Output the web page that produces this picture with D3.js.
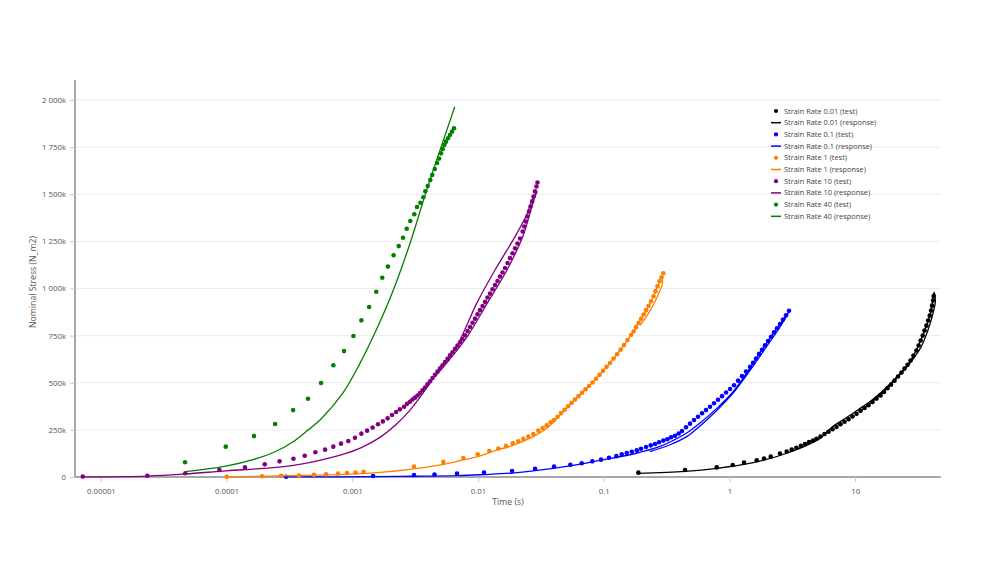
<!DOCTYPE html>
<html><head><meta charset="utf-8">
<script src="https://cdn.jsdelivr.net/npm/d3@7"></script>
<style>
body{margin:0;background:#fff;}
svg{display:block;font-family:"Open Sans",sans-serif;}
</style></head><body>
<svg id="chart" width="1000" height="572"></svg>
<script>
const rates = ["0.01", "0.1", "1", "10", "40"];
const rateColors = ["#000000", "#0000ff", "#ff7f00", "#800080", "#008000"];
const xTickValues = [1e-5, 1e-4, 1e-3, 1e-2, 1e-1, 1, 10];
const xTickLabels = ["0.00001", "0.0001", "0.001", "0.01", "0.1", "1", "10"];
const yTickValues = [0, 250000, 500000, 750000, 1000000, 1250000, 1500000, 1750000, 2000000];
const xTitle = "Time (s)";
const yTitle = "Nominal Stress (N_m2)";

// [time (s), stress (N_m2)]
const test_0_01 = [[0.18853,23e3],[0.4436,37e3],[0.7925,51e3],[1.0624,64e3],[1.3066,76e3],[1.6496,89e3],[1.885,98e3],[2.1307,108e3],[2.5259,125e3],[2.8553,135e3],[3.1303,145e3],[3.4055,155e3],[3.6983,165e3],[3.9939,175e3],[4.2983,185e3],[4.6259,194e3],[4.9317,203e3],
[5.305,215e3],[5.7085,228e3],[6.1426,240e3],[6.6097,253e3],[7.1121,266e3],[7.6543,280e3],[8.2358,293e3],[8.8616,307e3],[9.5346,321e3],[10.259,335e3],[11.041,351e3],[11.881,366e3],[12.784,381e3],[13.75,398e3],[14.797,416e3],[15.93,433e3],[16.98,451e3],[18.1,471e3],[19.3,490e3],[20.58,511e3],[21.94,533e3],[23.39,554e3],[24.72,575e3],[26.12,595e3],[27.59,618e3],[29.09,644e3],[30.73,671e3],[32.0,697e3],[33.19,724e3],[34.5,750e3],[35.65,777e3],[36.91,803e3],[38.08,830e3],[39.22,856e3],[40.16,883e3],[40.9,909e3],[41.74,936e3],[42.13,960e3]];
const resp_0_01 = [[0.18853,19e3],[0.4436,30e3],[0.7925,46e3],[1.5489,76e3],[2.8553,126e3],[5.2576,205e3],[6.489,263e3],[8.31,310e3],[10.354,353e3],[13.954,414e3],[19.84,507e3],[27.34,613e3],[34.37,748e3],[39.79,870e3],[42.44,979e3],[43.45,928e3],[41.66,870e3],[39.43,812e3],[36.64,751e3],[33.14,684e3],[28.88,626e3],[24.95,573e3],[20.77,515e3],[15.78,435e3],[10.94,347e3]];

const test_0_1 = [[2.97e-4,1e3],[1.461e-3,5e3],[3.096e-3,10e3],[4.507e-3,13e3],[6.806e-3,18e3],[0.01116,24e3],[0.01864,32e3],[0.02842,44e3],[0.04024,55e3],[0.05424,65e3],[0.06683,73e3],[0.08115,83e3],[0.09517,92e3],[0.1102,102e3],[0.12595,111e3],[0.13906,120e3],[0.1524,127e3],[0.16702,134e3],[0.18303,141e3],[0.19807,150e3],[0.21703,159e3],[0.23655,168e3],[0.25592,175e3],[0.27536,184e3],[0.29791,193e3],[0.32063,200e3],[0.34304,211e3],[0.36923,219e3],[0.39518,231e3],
[0.41967,244e3],[0.4516,264e3],[0.4859,283e3],[0.5229,302e3],[0.5626,320e3],[0.6054,338e3],[0.6514,355e3],[0.701,373e3],[0.7543,391e3],[0.8115,410e3],[0.8732,429e3],[0.9397,448e3],[1.0111,467e3],[1.0879,487e3],[1.1706,511e3],[1.2595,535e3],[1.3556,559e3],[1.4585,584e3],[1.5407,606e3],[1.6277,629e3],[1.7197,653e3],[1.8164,675e3],[1.9192,698e3],[2.0278,721e3],[2.142,744e3],[2.263,767e3],[2.3911,789e3],[2.5259,812e3],[2.6687,835e3],[2.8194,858e3],[2.9786,882e3]];
const resp_0_1 = [[2.97e-4,500],[1.461e-3,2e3],[3.096e-3,4e3],[6.806e-3,7e3],[0.01116,13e3],[0.01864,21e3],[0.02754,32e3],[0.05078,56e3],[0.09346,88e3],[0.172,122e3],[0.28046,162e3],[0.35,191e3],[0.45741,233e3],[0.58358,286e3],[0.7925,364e3],[1.074,454e3],[1.3729,552e3],[1.9912,714e3],[2.5259,812e3],[2.9786,878e3],[2.5735,804e3],[2.0278,703e3],[1.4585,565e3],[1.074,446e3],[0.7925,353e3],[0.58358,271e3],[0.45741,214e3],[0.33684,171e3],[0.23352,135e3]];

const test_1 = [[1.0e-4,1e3],[1.913e-4,4e3],[2.709e-4,6e3],[3.767e-4,8e3],[4.958e-4,12e3],[6.177e-4,14e3],[7.694e-4,18e3],[9.074e-4,21e3],[1.06e-3,24e3],[1.228e-3,28e3],[3.096e-3,56e3],[5.296e-3,80e3],[7.64e-3,101e3],[9.945e-3,121e3],[0.0123,138e3],[0.01451,151e3],[0.0167,165e3],[0.01889,179e3],[0.02092,190e3],[0.02293,202e3],[0.02513,214e3],[0.02754,228e3],[0.03018,246e3],[0.03271,260e3],[0.0352,274e3],[0.03788,290e3],
[0.04024,302e3],[0.0429,320e3],[0.04574,339e3],[0.04877,357e3],[0.052,375e3],[0.05544,393e3],[0.05911,411e3],[0.06303,429e3],[0.06721,447e3],[0.07164,465e3],[0.0764,483e3],[0.08145,501e3],[0.08683,521e3],[0.09261,542e3],[0.09872,563e3],[0.10527,584e3],[0.11222,605e3],[0.11967,629e3],[0.12757,651e3],[0.13604,675e3],[0.14502,700e3],[0.15461,727e3],[0.16491,753e3],[0.17264,772e3],[0.18072,795e3],[0.1892,817e3],[0.19807,839e3],[0.20731,862e3],[0.21703,885e3],[0.2272,908e3],[0.23785,932e3],[0.24901,959e3],[0.2583,986e3],[0.26792,1012e3],[0.2779,1038e3],[0.28826,1060e3],[0.29791,1081e3]];
const resp_1 = [[1.0e-4,1e3],[3.837e-4,8e3],[9.59e-4,15e3],[1.661e-3,24e3],[2.877e-3,40e3],[5.296e-3,67e3],[7.64e-3,91e3],[9.945e-3,108e3],[0.01409,143e3],[0.01797,162e3],[0.02754,214e3],[0.0352,258e3],[0.0449,329e3],[0.05911,411e3],[0.08266,506e3],[0.10879,594e3],[0.13906,683e3],[0.172,771e3],[0.20654,859e3],[0.24535,948e3],[0.2679,1012e3],[0.28826,1058e3],[0.29365,1029e3],[0.2704,966e3],[0.23352,881e3],[0.19448,804e3]];

const test_10 = [[7.17e-6,2e3],[2.34e-5,7e3],[4.69e-5,20e3],[8.75e-5,37e3],[1.4e-4,51e3],[2.01e-4,67e3],[2.64e-4,83e3],[3.4e-4,97e3],[4.18e-4,113e3],[5.08e-4,131e3],[6.07e-4,145e3],[7.06e-4,161e3],[8.13e-4,177e3],[9.29e-4,191e3],[1.05e-3,208e3],[1.18e-3,230e3],[1.31e-3,246e3],[1.45e-3,262e3],[1.6e-3,280e3],[1.75e-3,295e3],[1.91e-3,311e3],[2.07e-3,329e3],[2.23e-3,345e3],[2.39e-3,359e3],[2.58e-3,373e3],[2.724e-3,388e3],
[2.877e-3,399e3],[3.012e-3,411e3],[3.153e-3,421e3],[3.302e-3,432e3],[3.456e-3,446e3],[3.618e-3,460e3],[3.788e-3,475e3],[3.966e-3,492e3],[4.152e-3,508e3],[4.345e-3,525e3],[4.549e-3,542e3],[4.763e-3,559e3],[4.986e-3,576e3],[5.22e-3,593e3],[5.465e-3,610e3],[5.721e-3,627e3],[5.987e-3,645e3],[6.268e-3,662e3],[6.561e-3,680e3],[6.87e-3,697e3],[7.192e-3,715e3],[7.53e-3,732e3],[7.883e-3,752e3],[8.252e-3,774e3],[8.639e-3,796e3],[9.042e-3,818e3],[9.465e-3,840e3],[9.908e-3,863e3],[0.01037,885e3],[0.01086,907e3],[0.01137,929e3],[0.0119,952e3],[0.01246,973e3],[0.01305,996e3],[0.01365,1018e3],[0.01429,1040e3],[0.01496,1063e3],[0.01566,1085e3],[0.0164,1109e3],[0.01717,1135e3],[0.01797,1161e3],[0.01882,1187e3],[0.0197,1213e3],[0.02062,1239e3],[0.02159,1265e3],
[0.02264,1302e3],[0.02331,1329e3],[0.02401,1355e3],[0.02472,1382e3],[0.02545,1409e3],[0.02616,1435e3],[0.02694,1462e3],[0.02764,1488e3],[0.02836,1515e3],[0.02915,1541e3],[0.02974,1562e3]];
const resp_10 = [[7.17e-6,1e3],[2.34e-5,5e3],[4.69e-5,16e3],[1.0e-4,33e3],[2.01e-4,46e3],[3.4e-4,62e3],[5.08e-4,83e3],[8.13e-4,117e3],[1.18e-3,156e3],[1.66e-3,210e3],[2.23e-3,278e3],[2.877e-3,355e3],[3.585e-3,438e3],[4.306e-3,515e3],[4.986e-3,576e3],[5.721e-3,626e3],[6.97e-3,709e3],[9.76e-3,921e3],[0.01365,1098e3],[0.0197,1275e3],[0.02454,1395e3],[0.02689,1469e3],[0.02947,1512e3],[0.02842,1488e3],[0.02593,1401e3],[0.0228,1279e3],[0.01701,1098e3],[0.01179,920e3],[8.176e-3,743e3],[5.933e-3,623e3],[4.634e-3,540e3]];

const test_40 = [[4.67e-5,78e3],[9.84e-5,161e3],[1.65e-4,217e3],[2.43e-4,281e3],[3.38e-4,355e3],[4.44e-4,415e3],[5.64e-4,499e3],[7.06e-4,593e3],[8.59e-4,668e3],[1.02e-3,748e3],[1.18e-3,831e3],[1.36e-3,902e3],[1.55e-3,983e3],[1.73e-3,1057e3],[1.92e-3,1116e3],[2.13e-3,1176e3],[2.34e-3,1225e3],[2.53e-3,1269e3],[2.71e-3,1317e3],[2.89e-3,1358e3],[3.11e-3,1394e3],[3.27e-3,1432e3],[3.48e-3,1455e3],[3.67e-3,1484e3],[3.81e-3,1516e3],[3.98e-3,1544e3],[4.17e-3,1576e3],[4.32e-3,1602e3],[4.53e-3,1634e3],[4.72e-3,1666e3],[4.9e-3,1689e3],[5.08e-3,1717e3],[5.24e-3,1740e3],[5.4e-3,1761e3],[5.56e-3,1779e3],[5.77e-3,1797e3],[5.98e-3,1814e3],[6.21e-3,1832e3],[6.44e-3,1850e3]];
const resp_40 = [[4.67e-5,28e3],[9.84e-5,58e3],[1.65e-4,94e3],[2.43e-4,134e3],[3.38e-4,187e3],[4.44e-4,249e3],[5.64e-4,308e3],[8.43e-4,446e3],[1.15e-3,603e3],[1.56e-3,784e3],[2.12e-3,992e3],[2.88e-3,1240e3],[3.91e-3,1523e3],[4.99e-3,1735e3],[6.53e-3,1964e3]];

const testSeries = [test_0_01, test_0_1, test_1, test_10, test_40];
const respSeries = [resp_0_01, resp_0_1, resp_1, resp_10, resp_40];

const svg = d3.select("#chart");
const x = d3.scaleLog().domain([6.22e-6, 48.2]).range([75, 941]);
const y = d3.scaleLinear().domain([0, 2106000]).range([477, 80]);
const font = "'Open Sans', sans-serif";

// gridlines
svg.append("g").selectAll("line").data(yTickValues.filter(v => v > 0)).join("line")
  .attr("x1", 75).attr("x2", 941)
  .attr("y1", d => y(d)).attr("y2", d => y(d))
  .attr("stroke", "#ececec").attr("stroke-width", 1);

// axes
const fmtK = v => v === 0 ? "0" : d3.format(",")(v / 1000).replace(/,/g, " ") + "k";
const gy = svg.append("g").attr("transform", "translate(75,0)")
  .call(d3.axisLeft(y).tickValues(yTickValues).tickFormat(fmtK).tickSize(5).tickSizeOuter(0).tickPadding(4));
const gx = svg.append("g").attr("transform", "translate(0,477)")
  .call(d3.axisBottom(x).tickValues(xTickValues).tickFormat((d, i) => xTickLabels[i]).tickSize(5).tickSizeOuter(0).tickPadding(6));
[gx, gy].forEach(g => {
  g.select(".domain").attr("stroke", "#a8a8a8").attr("stroke-width", 2);
  g.selectAll(".tick line").attr("stroke", "#c8c8c8");
  g.selectAll(".tick text").attr("fill", "#555").attr("font-size", "7.8px").attr("font-family", font);
});
gy.select(".domain").attr("d", "M0,477V80");
gx.select(".domain").attr("d", "M75,0H941");

svg.append("text").attr("x", 508).attr("y", 505).attr("text-anchor", "middle")
  .attr("font-family", font).attr("font-size", "8.7px").attr("fill", "#555").text(xTitle);
svg.append("text").attr("transform", "translate(36,282) rotate(-90)").attr("text-anchor", "middle")
  .attr("font-family", font).attr("font-size", "8.7px").attr("fill", "#555").text(yTitle);

// series
const line = d3.line().x(d => x(d[0])).y(d => y(d[1])).curve(d3.curveCatmullRom.alpha(0.5));
const plot = svg.append("g");
rates.forEach((r, i) => {
  plot.append("g").selectAll("circle").data(testSeries[i]).join("circle")
    .attr("cx", d => x(d[0])).attr("cy", d => y(d[1])).attr("r", 2.3)
    .attr("fill", rateColors[i]);
  plot.append("path").datum(respSeries[i]).attr("d", line)
    .attr("fill", "none").attr("stroke", rateColors[i]).attr("stroke-width", 1.3);
});

// legend
const legendItems = [];
rates.forEach((r, i) => {
  legendItems.push({label: "Strain Rate " + r + " (test)", color: rateColors[i], type: "dot"});
  legendItems.push({label: "Strain Rate " + r + " (response)", color: rateColors[i], type: "line"});
});
const lg = svg.append("g");
legendItems.forEach((it, k) => {
  const cy = 111 + k * 11.7;
  if (it.type === "dot") {
    lg.append("circle").attr("cx", 776).attr("cy", cy).attr("r", 2.1).attr("fill", it.color);
  } else {
    lg.append("line").attr("x1", 771).attr("x2", 781).attr("y1", cy).attr("y2", cy)
      .attr("stroke", it.color).attr("stroke-width", 1.5);
  }
  lg.append("text").attr("x", 784).attr("y", cy).attr("dy", "0.35em")
    .attr("font-family", font).attr("font-size", "7.4px").attr("fill", "#444").text(it.label);
});
</script>
</body></html>
